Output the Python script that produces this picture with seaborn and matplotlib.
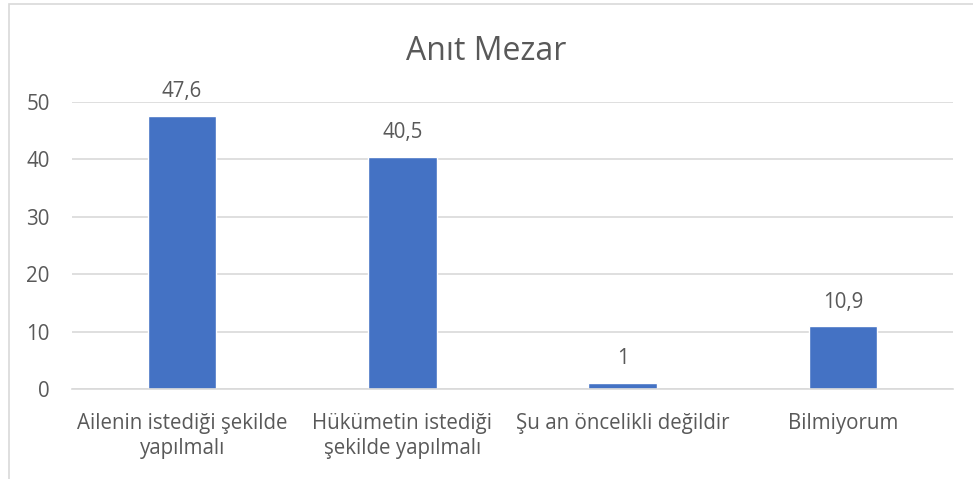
import matplotlib
matplotlib.use("Agg")
import matplotlib.pyplot as plt
import matplotlib.patches as mpatches
import seaborn as sns
import pandas as pd

# datos del grafico
categorias = ["Ailenin istediği şekilde\nyapılmalı",
              "Hükümetin istediği\nşekilde yapılmalı",
              "Şu an öncelikli değildir",
              "Bilmiyorum"]
valores = [47.6, 40.5, 1, 10.9]
etiquetas = ["47,6", "40,5", "1", "10,9"]
titulo = "Anıt Mezar"

df = pd.DataFrame({"categoria": categorias, "valor": valores})

sns.set_theme(style="white")
plt.rcParams["font.family"] = ["Open Sans", "DejaVu Sans"]

gris = "#595959"
fig = plt.figure(figsize=(9.73, 4.79), dpi=100)
ax = fig.add_axes([72 / 973, 1 - 389 / 479, (953 - 72) / 973, (389 - 102) / 479])

sns.barplot(data=df, x="categoria", y="valor", color="#4472C4", width=0.31,
            saturation=1, ax=ax)

ax.set_ylim(0, 50)
ax.set_yticks(range(0, 51, 10))
ax.yaxis.grid(True, color="#D9D9D9", linewidth=1.2)
ax.set_axisbelow(True)
for s in ["top", "right", "left"]:
    ax.spines[s].set_visible(False)
ax.spines["bottom"].set_color("#D9D9D9")
ax.spines["bottom"].set_linewidth(1.2)
ax.tick_params(axis="both", length=0, colors=gris, labelsize=14.8)
ax.tick_params(axis="y", pad=16)
ax.tick_params(axis="x", pad=17)
ax.set_xlabel("")
ax.set_ylabel("")
for t in ax.get_xticklabels():
    t.set_linespacing(1.3)

ax.bar_label(ax.containers[0], labels=etiquetas, padding=10, color=gris, fontsize=14.8)

fig.text(0.5, 1 - 51 / 479, titulo, ha="center", va="center", fontsize=23, color=gris)

# borde del grafico
borde = mpatches.Rectangle((8.5 / 973, -0.1), 1.2, 1 - 3.5 / 479 + 0.1,
                           transform=fig.transFigure, fill=False,
                           edgecolor="#D9D9D9", linewidth=1.2)
fig.patches.append(borde)

fig.savefig("out.png", dpi=100)
